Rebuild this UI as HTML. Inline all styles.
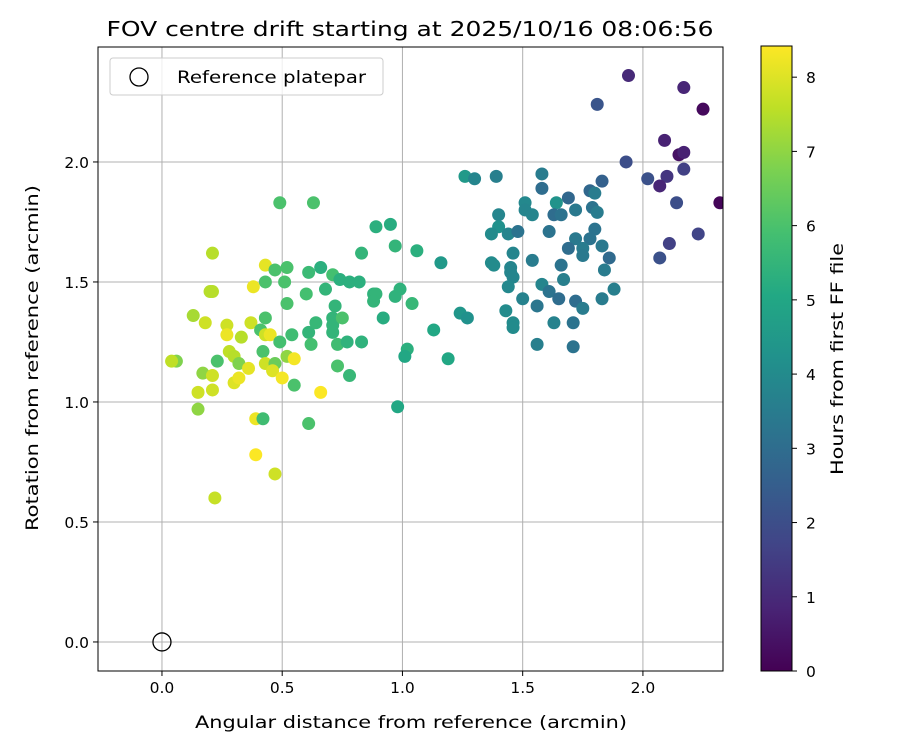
<!DOCTYPE html>
<html><head><meta charset="utf-8"><style>
body{margin:0;background:#fff}
svg{display:block;font-family:"DejaVu Sans","Liberation Sans",sans-serif}
</style></head><body>
<svg id="chart" width="900" height="750" viewBox="0 0 900 750" xmlns="http://www.w3.org/2000/svg">
<rect width="900" height="750" fill="#fff"/>
<defs>
<clipPath id="axclip"><rect x="98" y="47" width="625" height="624"/></clipPath>
<linearGradient id="cbgrad" x1="0" y1="1" x2="0" y2="0">
<stop offset="0" stop-color="#440154"/><stop offset="0.1" stop-color="#482475"/><stop offset="0.2" stop-color="#414487"/><stop offset="0.3" stop-color="#355f8d"/><stop offset="0.4" stop-color="#2a788e"/><stop offset="0.5" stop-color="#21918c"/><stop offset="0.6" stop-color="#22a884"/><stop offset="0.7" stop-color="#44bf70"/><stop offset="0.8" stop-color="#7ad151"/><stop offset="0.9" stop-color="#bddf26"/><stop offset="1" stop-color="#fde725"/>
</linearGradient>
</defs>
<text x="410" y="36" font-size="20.5" text-anchor="middle" textLength="607" lengthAdjust="spacingAndGlyphs">FOV centre drift starting at 2025/10/16 08:06:56</text>
<g id="grid"></g>
<g id="points" clip-path="url(#axclip)"></g>
<rect x="98" y="47" width="625" height="624" fill="none" stroke="#000" stroke-width="1"/>
<g id="ticks"></g>
<text x="411" y="728" font-size="17" text-anchor="middle" textLength="432" lengthAdjust="spacingAndGlyphs">Angular distance from reference (arcmin)</text>
<text x="38" y="358" font-size="17" text-anchor="middle" textLength="346" lengthAdjust="spacingAndGlyphs" transform="rotate(-90 38 358)">Rotation from reference (arcmin)</text>
<g>
<rect x="110" y="58" width="273" height="37" rx="3" fill="#fff" fill-opacity="0.8" stroke="#ccc"/>
<circle cx="139" cy="77" r="9" fill="none" stroke="#000" stroke-width="1.3"/>
<text x="177" y="83" font-size="17" textLength="189" lengthAdjust="spacingAndGlyphs">Reference platepar</text>
</g>
<g>
<rect x="761" y="46" width="31" height="625" fill="url(#cbgrad)" stroke="#000" stroke-width="1"/>
<g id="cbticks"></g>
<text x="843" y="359" font-size="17" text-anchor="middle" textLength="232" lengthAdjust="spacingAndGlyphs" transform="rotate(-90 843 359)">Hours from first FF file</text>
</g>
</svg>
<script>
const xTicks=[0.0,0.5,1.0,1.5,2.0];
const xTickLabels=["0.0","0.5","1.0","1.5","2.0"];
const yTicks=[0.0,0.5,1.0,1.5,2.0];
const yTickLabels=["0.0","0.5","1.0","1.5","2.0"];
const cbTicks=[0,1,2,3,4,5,6,7,8];
const refPoint=[0,0];
const xs=[1.94,2.17,2.25,1.81,2.09,2.15,2.17,1.93,2.02,2.10,2.17,2.07,2.14,2.32,2.23,2.11,2.07,
1.26,1.30,1.39,1.58,1.58,1.83,1.69,1.78,1.80,1.51,1.64,1.51,1.54,1.63,1.66,1.72,1.79,1.81,1.40,1.40,1.37,1.44,1.48,1.61,1.80,1.78,1.72,1.69,1.75,1.75,1.83,1.86,1.84,
1.37,1.38,1.46,1.45,1.45,1.46,1.44,1.54,1.66,1.67,1.58,1.61,1.65,1.72,1.75,1.83,1.88,1.50,1.56,1.43,1.46,1.46,1.63,1.71,1.56,1.71,1.24,1.27,1.19,
0.49,0.63,0.89,0.95,0.97,0.83,1.06,1.16,0.21,0.43,0.47,0.52,0.61,0.66,0.71,0.74,0.78,0.82,0.43,0.51,0.38,0.20,0.21,0.60,0.68,0.88,0.89,0.88,0.99,0.97,1.04,0.52,0.72,
0.13,0.18,0.27,0.27,0.37,0.33,0.43,0.41,0.43,0.45,0.49,0.54,0.61,0.64,0.71,0.71,0.71,0.75,0.73,0.77,0.83,0.62,0.92,1.13,1.02,1.01,
0.06,0.04,0.23,0.28,0.30,0.32,0.42,0.36,0.43,0.47,0.52,0.55,0.17,0.21,0.30,0.32,0.46,0.50,0.55,0.66,0.73,0.78,0.15,0.21,0.15,0.39,0.42,0.61,0.98,0.39,0.47,0.22];
const ys=[2.36,2.31,2.22,2.24,2.09,2.03,2.04,2.00,1.93,1.94,1.97,1.90,1.83,1.83,1.70,1.66,1.60,
1.94,1.93,1.94,1.95,1.89,1.92,1.85,1.88,1.87,1.83,1.83,1.80,1.78,1.78,1.78,1.80,1.81,1.79,1.78,1.73,1.70,1.70,1.71,1.71,1.72,1.68,1.68,1.64,1.64,1.61,1.65,1.60,1.55,
1.58,1.57,1.62,1.56,1.54,1.52,1.48,1.59,1.57,1.51,1.49,1.46,1.43,1.42,1.39,1.43,1.47,1.43,1.40,1.38,1.33,1.31,1.33,1.33,1.24,1.23,1.37,1.35,1.18,
1.83,1.83,1.73,1.74,1.65,1.62,1.63,1.58,1.62,1.57,1.55,1.56,1.54,1.56,1.53,1.51,1.50,1.50,1.50,1.50,1.48,1.46,1.46,1.45,1.47,1.45,1.45,1.42,1.47,1.44,1.41,1.41,1.40,
1.36,1.33,1.32,1.28,1.33,1.27,1.35,1.30,1.28,1.28,1.25,1.28,1.29,1.33,1.35,1.32,1.29,1.35,1.24,1.25,1.25,1.24,1.35,1.30,1.22,1.19,
1.17,1.17,1.17,1.21,1.19,1.16,1.21,1.14,1.16,1.16,1.19,1.18,1.12,1.11,1.08,1.10,1.13,1.10,1.07,1.04,1.15,1.11,1.04,1.05,0.97,0.93,0.93,0.91,0.98,0.78,0.70,0.60];
const hours=[1.0,0.9,0.2,2.2,0.8,0.4,0.8,2.0,2.1,1.3,1.6,0.9,2.0,0.1,1.7,1.6,2.1,
4.5,3.8,3.6,3.5,3.0,2.6,2.8,2.8,3.5,3.9,4.3,3.8,3.8,3.0,3.2,3.4,3.2,3.5,3.8,4.2,4.0,3.8,3.2,3.2,3.2,3.2,3.4,3.0,3.5,3.4,3.4,2.9,3.5,
4.0,4.0,3.8,3.8,3.8,3.8,3.9,3.5,3.2,3.6,3.8,3.2,3.0,3.0,3.5,3.5,3.6,3.7,3.3,4.0,4.0,4.0,3.7,3.2,3.6,3.2,4.4,4.2,5.0,
6.0,6.0,5.3,5.2,5.5,5.5,5.3,4.5,7.5,8.1,6.0,6.0,5.7,5.3,5.9,5.3,5.3,5.3,6.0,6.0,8.2,7.5,7.5,5.9,5.5,5.4,5.5,5.5,5.4,5.4,5.6,6.0,5.5,
7.3,7.8,7.8,8.2,7.8,7.5,6.0,6.0,7.8,8.2,5.9,5.8,5.5,5.6,5.5,5.5,5.5,6.0,5.8,5.4,5.4,5.9,5.2,5.0,5.3,5.0,
6.8,7.6,6.0,7.6,7.5,6.8,6.0,8.1,7.8,6.5,7.0,8.3,7.0,7.8,8.0,8.2,8.0,8.3,6.0,8.4,6.0,5.6,7.8,7.8,7.0,8.2,5.8,6.0,5.0,8.4,7.8,7.7];

const X0=98,X1=723,Y0=671,Y1=47,xmin=-0.266,xmax=2.333,ymin=-0.121,ymax=2.479;
const HMAX=8.42,CBY0=671,CBY1=46;
function sx(v){return X0+(v-xmin)/(xmax-xmin)*(X1-X0);}
function sy(v){return Y0-(v-ymin)/(ymax-ymin)*(Y0-Y1);}
function cby(h){return CBY0-h/HMAX*(CBY0-CBY1);}
const stops=[[68,1,84],[72,36,117],[65,68,135],[53,95,141],[42,120,142],[33,145,140],[34,168,132],[68,191,112],[122,209,81],[189,223,38],[253,231,37]];
function viridis(t){t=Math.max(0,Math.min(1,t));const f=t*10,i=Math.min(9,Math.floor(f)),r=f-i;const a=stops[i],b=stops[i+1];
return 'rgb('+a.map((c,k)=>Math.round(c+(b[k]-c)*r)).join(',')+')';}
const NS='http://www.w3.org/2000/svg';
function mk(tag,attrs,parent){const e=document.createElementNS(NS,tag);for(const k in attrs)e.setAttribute(k,attrs[k]);parent.appendChild(e);return e;}
const grid=document.getElementById('grid'),ticks=document.getElementById('ticks'),pts=document.getElementById('points'),cbt=document.getElementById('cbticks');
xTicks.forEach((v,i)=>{const x=sx(v);
const g=mk('line',{x1:x,x2:x,y1:Y1,y2:Y0,stroke:'#b0b0b0','stroke-width':1},grid);


const t=mk('line',{x1:x,x2:x,y1:Y0,y2:Y0+5,stroke:'#000'},ticks);


const l=mk('text',{x:x,y:Y0+22,'font-size':15.5,'text-anchor':'middle'},ticks);l.textContent=xTickLabels[i];

});
yTicks.forEach((v,i)=>{const y=sy(v);
const g=mk('line',{x1:X0,x2:X1,y1:y,y2:y,stroke:'#b0b0b0','stroke-width':1},grid);


const t=mk('line',{x1:X0-5,x2:X0,y1:y,y2:y,stroke:'#000'},ticks);


const l=mk('text',{x:X0-9,y:y+6,'font-size':15.5,'text-anchor':'end'},ticks);l.textContent=yTickLabels[i];

});
xs.forEach((v,i)=>{const c=mk('circle',{cx:sx(v),cy:sy(ys[i]),r:6.5,fill:viridis(hours[i]/HMAX)},pts);

});
const ref=mk('circle',{cx:sx(refPoint[0]),cy:sy(refPoint[1]),r:9,fill:'none',stroke:'#000','stroke-width':1.3},pts);


cbTicks.forEach(h=>{const y=cby(h);
const t=mk('line',{x1:792,x2:797,y1:y,y2:y,stroke:'#000'},cbt);


const l=mk('text',{x:806,y:y+6,'font-size':15.5},cbt);l.textContent=String(h);

});
</script>
</body></html>
